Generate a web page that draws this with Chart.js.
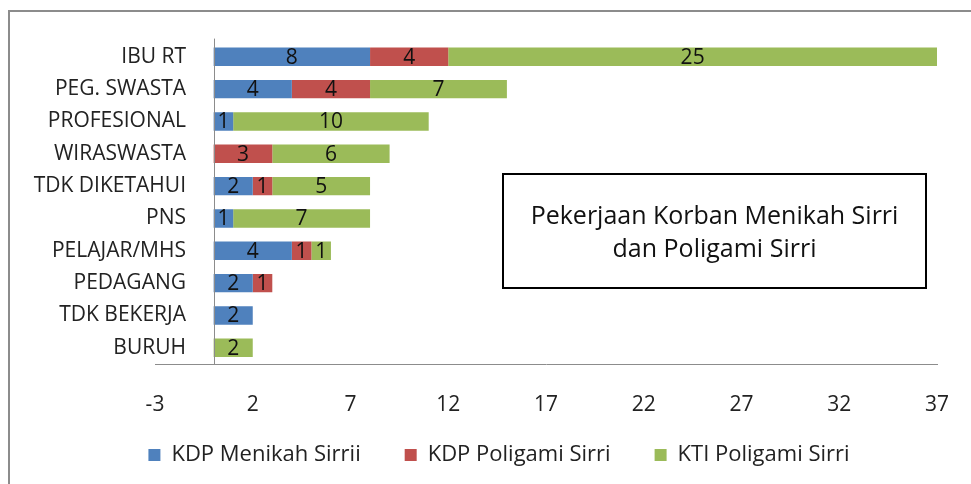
<!DOCTYPE html>
<html>
<head>
<meta charset="utf-8">
<script src="https://cdn.jsdelivr.net/npm/chart.js@4.4.1/dist/chart.umd.min.js"></script>
<style>
  html, body { margin:0; padding:0; background:#fff; }
  #wrap { position:relative; width:971px; height:484px; }
  #frame { position:absolute; left:8px; top:10px; right:0; bottom:0; border-left:2px solid #8c8c8c; border-top:2px solid #8c8c8c; pointer-events:none; }
  #titleBox { position:absolute; left:502px; top:173px; width:425px; height:116px; border:2px solid #000; box-sizing:border-box;
    display:flex; align-items:center; justify-content:center; text-align:center;
    font-family:"Open Sans", sans-serif; font-size:25px; line-height:33px; color:#111; }
</style>
</head>
<body>
<div id="wrap">
  <canvas id="chart" width="971" height="484"></canvas>
  <div id="frame"></div>
  <div id="titleBox">Pekerjaan Korban Menikah Sirri<br>dan Poligami Sirri</div>
</div>
<script>
const categories = ['IBU RT','PEG. SWASTA','PROFESIONAL','WIRASWASTA','TDK DIKETAHUI','PNS','PELAJAR/MHS','PEDAGANG','TDK BEKERJA','BURUH'];
const kdpMenikah  = [8, 4, 1, 0, 2, 1, 4, 2, 2, 0];
const kdpPoligami = [4, 4, 0, 3, 1, 0, 1, 1, 0, 0];
const ktiPoligami = [25, 7, 10, 6, 5, 7, 1, 0, 0, 2];
const xMin = -3, xMax = 37, xStep = 5;

const FONT = '"Open Sans", sans-serif';

// y labels sit against the x = 0 line, legend nudged, value labels inside the bars
const extras = {
  id: 'extras',
  afterLayout(chart) {
    const y = chart.scales.y;
    y.right = Math.round(chart.scales.x.getPixelForValue(0));
    chart.legend.top -= 12;
    chart.legend.bottom -= 12;
    chart.legend.left += 26;
    chart.legend.right += 26;
  },
  afterDatasetsDraw(chart) {
    const ctx = chart.ctx;
    const x = chart.scales.x, area = chart.chartArea;
    const x0 = Math.round(x.getPixelForValue(0)) + 0.5;
    ctx.save();
    ctx.strokeStyle = '#8c8c8c';
    ctx.lineWidth = 1;
    ctx.beginPath();
    ctx.moveTo(x0, area.top - 2);
    ctx.lineTo(x0, area.bottom);
    ctx.stroke();

    ctx.font = '21px ' + FONT;
    ctx.fillStyle = '#111';
    ctx.textAlign = 'center';
    ctx.textBaseline = 'middle';
    chart.data.datasets.forEach((ds, i) => {
      chart.getDatasetMeta(i).data.forEach((bar, j) => {
        const v = ds.data[j];
        if (!v) return;
        const cx = (bar.x + bar.base) / 2;
        ctx.fillText(String(v), cx, bar.y + 1);
      });
    });
    ctx.restore();
  }
};

new Chart(document.getElementById('chart').getContext('2d'), {
  type: 'bar',
  data: {
    labels: categories,
    datasets: [
      { label: 'KDP Menikah Sirrii', data: kdpMenikah, backgroundColor: '#4F81BD' },
      { label: 'KDP Poligami Sirri', data: kdpPoligami, backgroundColor: '#C0504D' },
      { label: 'KTI Poligami Sirri', data: ktiPoligami, backgroundColor: '#9BBB59' }
    ]
  },
  options: {
    indexAxis: 'y',
    responsive: false,
    animation: false,
    barPercentage: 0.57,
    categoryPercentage: 1,
    layout: { padding: { left: 9, top: 39, right: 34, bottom: -4 } },
    scales: {
      x: {
        stacked: true,
        min: xMin, max: xMax,
        afterFit(scale) { scale.height = 48; scale.paddingRight = 0; },
        ticks: { stepSize: xStep, padding: 28, color: '#222', font: { family: FONT, size: 21 } },
        grid: { display: false, drawTicks: false },
        border: { display: true, color: '#8c8c8c', width: 1 }
      },
      y: {
        stacked: true,
        afterFit(scale) { scale.width = 146; },
        ticks: { padding: 28, color: '#222', font: { family: FONT, size: 21 } },
        grid: { display: false, drawTicks: false },
        border: { display: false }
      }
    },
    plugins: {
      legend: {
        position: 'bottom',
        labels: { boxWidth: 12, boxHeight: 12, padding: 44, color: '#222', font: { family: FONT, size: 22 } }
      },
      tooltip: { enabled: false }
    }
  },
  plugins: [extras]
});
</script>
</body>
</html>
